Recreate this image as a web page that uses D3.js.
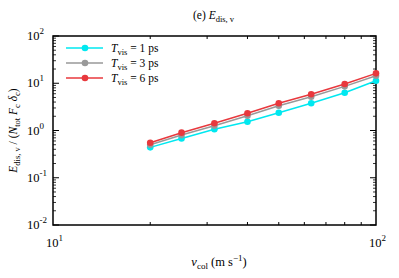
<!DOCTYPE html>
<html>
<head>
<meta charset="utf-8">
<script src="https://cdn.jsdelivr.net/npm/d3@7"></script>
<style>
  body { margin: 0; background: #fff; }
  svg text { font-family: "Liberation Serif", "Times New Roman", serif; fill: #000; }
</style>
</head>
<body>
<svg id="chart" width="399" height="278" font-family="Liberation Serif, serif"></svg>
<script>
// 碰撞速度 (m/s)
const vcol = [20, 25, 31.6, 40, 50, 63, 80, 100];
// 各 T_vis 的能量耗散
const tvis1 = [0.44, 0.68, 1.06, 1.53, 2.38, 3.77, 6.3, 11.3];
const tvis3 = [0.50, 0.80, 1.26, 2.05, 3.35, 5.2, 8.6, 14.4];
const tvis6 = [0.55, 0.90, 1.42, 2.31, 3.77, 5.84, 9.64, 16.2];
const seriesNames = ["1 ps", "3 ps", "6 ps"];
const seriesColors = ["#00e8f0", "#999999", "#e8383d"];
const yTickVals = [1e-2, 1e-1, 1, 10, 100];
const xTickVals = [10, 100];

const svg = d3.select("#chart");
const m = { left: 53, top: 36, right: 376, bottom: 225 };

const x = d3.scaleLog().domain([10, 100]).range([m.left, m.right]);
const y = d3.scaleLog().domain([1e-2, 1e2]).range([m.bottom, m.top]);

//次刻度
const xMinor = d3.range(20, 100, 10);
const yMinor = [];
yTickVals.slice(0, -1).forEach(d => {
    for (let k = 2; k <= 9; k++) yMinor.push(d * k);
});

const g = svg.append("g");

// 刻度线（朝内，四边都有）
xMinor.forEach(v => {
    g.append("line").attr("x1", x(v)).attr("x2", x(v))
        .attr("y1", m.bottom).attr("y2", m.bottom - 3).attr("stroke", "#000");
    g.append("line").attr("x1", x(v)).attr("x2", x(v))
        .attr("y1", m.top).attr("y2", m.top + 3).attr("stroke", "#000");
});
yMinor.forEach(v => {
    g.append("line").attr("x1", m.left).attr("x2", m.left + 3)
        .attr("y1", y(v)).attr("y2", y(v)).attr("stroke", "#000").attr("stroke-width", 0.8);
    g.append("line").attr("x1", m.right).attr("x2", m.right - 3)
        .attr("y1", y(v)).attr("y2", y(v)).attr("stroke", "#000").attr("stroke-width", 0.8);
});
yTickVals.forEach(v => {
    g.append("line").attr("x1", m.left).attr("x2", m.left + 6)
        .attr("y1", y(v)).attr("y2", y(v)).attr("stroke", "#000");
    g.append("line").attr("x1", m.right).attr("x2", m.right - 6)
        .attr("y1", y(v)).attr("y2", y(v)).attr("stroke", "#000");
});

// 边框
g.append("rect").attr("x", m.left).attr("y", m.top)
    .attr("width", m.right - m.left).attr("height", m.bottom - m.top)
    .attr("fill", "none").attr("stroke", "#000").attr("stroke-width", 1.5);

// 刻度标签 10^n
function powLabel(sel, v) {
    const e = Math.round(Math.log10(v));
    sel.append("tspan").text("10");
    sel.append("tspan").attr("dy", -6).attr("font-size", 9).text(e);
}
yTickVals.forEach(v => {
    const t = g.append("text").attr("x", m.left - 26).attr("y", y(v) + 4)
        .attr("font-size", 12.5);
    powLabel(t, v);
});
xTickVals.forEach(v => {
    const t = g.append("text").attr("x", x(v) - 7).attr("y", m.bottom + 22)
        .attr("font-size", 12.5);
    powLabel(t, v);
});

// 数据线
const allSeries = [tvis1, tvis3, tvis6];
const line = d3.line().x((d, i) => x(vcol[i])).y(d => y(d));
allSeries.forEach((s, k) => {
    g.append("path").datum(s).attr("d", line)
        .attr("fill", "none").attr("stroke", seriesColors[k]).attr("stroke-width", 1.5);
    g.selectAll(null).data(s).enter().append("circle")
        .attr("cx", (d, i) => x(vcol[i])).attr("cy", d => y(d))
        .attr("r", 3.3).attr("fill", seriesColors[k]);
});

// 图例
seriesNames.forEach((name, k) => {
    const ly = 48 + k * 15;
    g.append("line").attr("x1", 66).attr("x2", 103).attr("y1", ly).attr("y2", ly)
        .attr("stroke", seriesColors[k]).attr("stroke-width", 1.5);
    g.append("circle").attr("cx", 85).attr("cy", ly).attr("r", 3.3).attr("fill", seriesColors[k]);
    const t = g.append("text").attr("x", 111).attr("y", ly + 4).attr("font-size", 11.5);
    t.append("tspan").attr("font-style", "italic").text("T");
    t.append("tspan").attr("font-size", 8.5).attr("dy", 2.5).text("vis");
    t.append("tspan").attr("dy", -2.5).text(" = " + name);
});

// 标题
const title = g.append("text").attr("x", 193).attr("y", 19).attr("font-size", 11.5);
title.append("tspan").text("(e) ");
title.append("tspan").attr("font-style", "italic").text("E");
title.append("tspan").attr("font-size", 8.5).attr("dy", 2.5).text("dis, v");

// x 轴标题
const xl = g.append("text").attr("x", 219).attr("y", 266).attr("text-anchor", "middle").attr("font-size", 12.5);
xl.append("tspan").attr("font-style", "italic").text("v");
xl.append("tspan").attr("font-size", 9).attr("dy", 2.5).text("col");
xl.append("tspan").attr("dy", -2.5).text(" (m s");
xl.append("tspan").attr("font-size", 9).attr("dy", -5).text("−1");
xl.append("tspan").attr("dy", 5).text(")");

// y 轴标题
const yl = g.append("text").attr("transform", `translate(17, ${(m.top + m.bottom) / 2}) rotate(-90)`)
    .attr("text-anchor", "middle").attr("font-size", 11.5);
yl.append("tspan").attr("font-style", "italic").text("E");
yl.append("tspan").attr("font-size", 8.5).attr("dy", 2.5).text("dis, v");
yl.append("tspan").attr("dy", -2.5).text(" / (");
yl.append("tspan").attr("font-style", "italic").text("N");
yl.append("tspan").attr("font-size", 8.5).attr("dy", 2.5).text("tot");
yl.append("tspan").attr("dy", -2.5).text(" ");
yl.append("tspan").attr("font-style", "italic").text("F");
yl.append("tspan").attr("font-size", 8.5).attr("dy", 2.5).text("c");
yl.append("tspan").attr("dy", -2.5).text(" ");
yl.append("tspan").attr("font-style", "italic").text("δ");
yl.append("tspan").attr("font-size", 8.5).attr("dy", 2.5).text("c");
yl.append("tspan").attr("dy", -2.5).text(")");
</script>
</body>
</html>
